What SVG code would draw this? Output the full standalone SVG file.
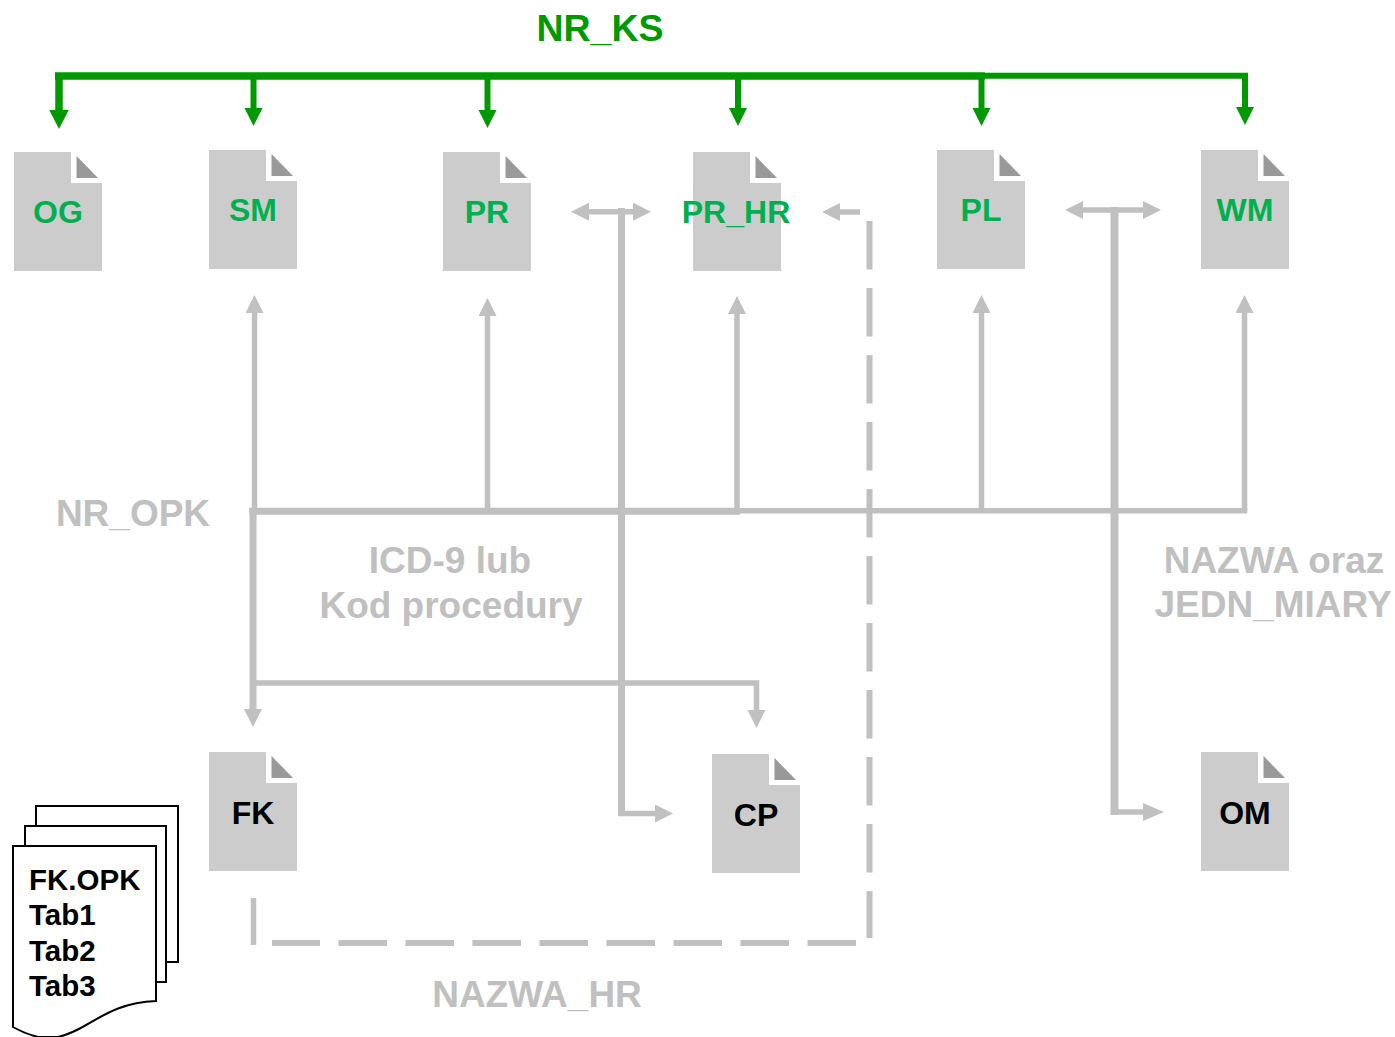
<svg xmlns="http://www.w3.org/2000/svg" width="1395" height="1037" viewBox="0 0 1395 1037">
<style>
text{font-family:"Liberation Sans",Arial,sans-serif;font-weight:700}
.nl{font-size:32px;text-anchor:middle}
.g{fill:#00b050}.k{fill:#000}
.lab{font-size:37px;fill:#c0c0c0;text-anchor:middle}
.top{font-size:37.500px;fill:#009900;text-anchor:middle}
.gr{fill:none;stroke:#c0c0c0;stroke-width:5.500}
.th{stroke-width:7}
.xt{stroke-width:8}
.ds{stroke-dasharray:48.500 18.500;stroke-width:6}
.ga{fill:none;stroke:#009900;stroke-width:6}
.gt{stroke-width:7.500}
.pg{fill:#fff;stroke:#000;stroke-width:2}
.tb{font-size:29.500px;fill:#000}
</style>
<defs>
<marker id="ah" markerUnits="userSpaceOnUse" markerWidth="20" markerHeight="20" refX="1" refY="9" orient="auto-start-reverse"><path d="M0 0L18 9L0 18Z" fill="#c0c0c0"/></marker>
<marker id="al" markerUnits="userSpaceOnUse" markerWidth="23" markerHeight="20" refX="1" refY="9" orient="auto"><path d="M0 0L21 9L0 18Z" fill="#c0c0c0"/></marker>
<marker id="gh" markerUnits="userSpaceOnUse" markerWidth="20" markerHeight="20" refX="1" refY="9" orient="auto"><path d="M0 0L18 9L0 18Z" fill="#009900"/></marker>
<marker id="gb" markerUnits="userSpaceOnUse" markerWidth="22" markerHeight="22" refX="1" refY="10" orient="auto"><path d="M0 0L19.500 10L0 20Z" fill="#009900"/></marker>
<g id="doc"><path d="M0 0H57V31H88V119H0Z" fill="#cccccc"/><path d="M62.500 4L84 26H62.500Z" fill="#999999"/></g>
</defs>
<g id="connectors">
<path class="ga gt" d="M55 76H985"/>
<path class="ga" d="M985 75.700H1245V108" marker-end="url(#gh)"/>
<path class="ga gt" d="M59 76V110.500" marker-end="url(#gb)"/>
<path class="ga" d="M253.500 76V109" marker-end="url(#gh)"/>
<path class="ga" d="M487.500 76V111" marker-end="url(#gh)"/>
<path class="ga" d="M738 76V109" marker-end="url(#gh)"/>
<path class="ga" d="M981.500 76V109" marker-end="url(#gh)"/>
<path class="gr" d="M254.500 511V312" marker-end="url(#ah)"/>
<path class="gr" d="M487.500 511V315" marker-end="url(#ah)"/>
<path class="gr" d="M737 511V313" marker-end="url(#ah)"/>
<path class="gr" d="M981.500 511V312" marker-end="url(#ah)"/>
<path class="gr" d="M1244.500 511V312" marker-end="url(#ah)"/>
<path class="gr th" d="M249.500 511.300H740"/>
<path class="gr" d="M740 510.800H1247.300"/>
<path class="gr th" d="M253 508V710" marker-end="url(#ah)"/>
<path class="gr" d="M253 683H756.500V711" marker-end="url(#ah)"/>
<path class="gr" d="M588 211.700H634" marker-start="url(#ah)" marker-end="url(#ah)"/>
<path class="gr th" d="M621.500 208V813.500"/>
<path class="gr" d="M618 813.500H656" marker-end="url(#ah)"/>
<path class="gr" d="M860 212H839" marker-end="url(#ah)"/>
<path class="gr ds" d="M869.500 221V938"/>
<path class="gr ds" d="M856 943H272"/>
<path class="gr" d="M253.500 898V945"/>
<path class="gr" d="M1082 210H1144" marker-start="url(#ah)" marker-end="url(#ah)"/>
<path class="gr xt" d="M1114.500 207V815"/>
<path class="gr" d="M1111 812H1144" marker-end="url(#al)"/>
</g>
<g id="node-og"><use href="#doc" x="14" y="152"/><text class="nl g" x="58" y="223">OG</text></g>
<g id="node-sm"><use href="#doc" x="209" y="150"/><text class="nl g" x="253" y="221">SM</text></g>
<g id="node-pr"><use href="#doc" x="443" y="152"/><text class="nl g" x="487" y="223">PR</text></g>
<g id="node-pr-hr"><use href="#doc" x="693" y="152"/><text class="nl g" x="736" y="223">PR_HR</text></g>
<g id="node-pl"><use href="#doc" x="937" y="150"/><text class="nl g" x="981" y="221">PL</text></g>
<g id="node-wm"><use href="#doc" x="1201" y="150"/><text class="nl g" x="1245" y="221">WM</text></g>
<g id="node-fk"><use href="#doc" x="209" y="752"/><text class="nl k" x="253" y="824">FK</text></g>
<g id="node-cp"><use href="#doc" x="712" y="754"/><text class="nl k" x="756" y="826">CP</text></g>
<g id="node-om"><use href="#doc" x="1201" y="752"/><text class="nl k" x="1245" y="824">OM</text></g>
<g id="node-tables">
<path class="pg" d="M36 806H178V962H36Z"/>
<path class="pg" d="M25 826H166V982H25Z"/>
<path class="pg" d="M13 846H156V1001C105 1003 90 1030 58 1037H38C30 1035 20 1031 13 1027Z"/>
<text class="tb" x="29" y="890">FK.OPK</text>
<text class="tb" x="29" y="925">Tab1</text>
<text class="tb" x="29" y="961">Tab2</text>
<text class="tb" x="29" y="996">Tab3</text>
</g>
<g id="labels">
<text class="top" x="600" y="41">NR_KS</text>
<text class="lab" x="133" y="526">NR_OPK</text>
<text class="lab" x="450" y="573">ICD-9 lub</text>
<text class="lab" x="451" y="618">Kod procedury</text>
<text class="lab" x="1274" y="573">NAZWA oraz</text>
<text class="lab" x="1273" y="617">JEDN_MIARY</text>
<text class="lab" x="537" y="1007">NAZWA_HR</text>
</g>
</svg>
